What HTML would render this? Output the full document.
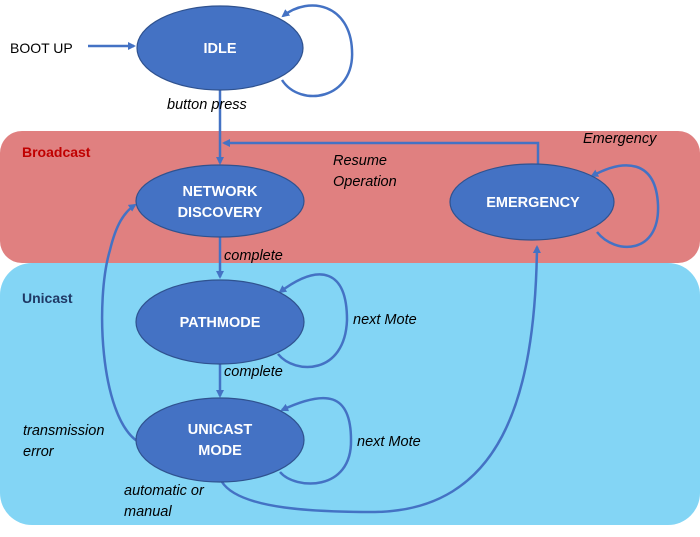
<!DOCTYPE html>
<html><head><style>
body{margin:0;width:700px;height:532px;background:#fff;overflow:hidden}
svg text{font-family:"Liberation Sans",sans-serif;font-size:14px}
.it{font-style:italic;font-size:14.5px}
.w{fill:#fff;font-size:14.5px;font-weight:bold}
</style></head><body>
<svg width="700" height="532" viewBox="0 0 700 532">
<defs><marker id="a" markerWidth="8" markerHeight="8" refX="6" refY="4" orient="auto" markerUnits="userSpaceOnUse"><path d="M0,0 L8,4 L0,8 z" fill="#4472c4"/></marker></defs>
<rect x="0" y="131" width="700" height="132" rx="22" fill="#e08080"/>
<rect x="0" y="263" width="700" height="262" rx="32" fill="#83d5f5"/>
<g fill="none" stroke="#4472c4" stroke-width="2.5">
<path d="M88,46 L134,46" marker-end="url(#a)"/>
<path d="M282,80 C300,108 355,100 352,50 C350,5 310,-5 283,16" marker-end="url(#a)"/>
<path d="M220,90 L220,163" marker-end="url(#a)"/>
<path d="M538,165 L538,143 L224,143" marker-end="url(#a)"/>
<path d="M597,232 C615,255 660,255 658,205 C656,160 625,158 592,176" marker-end="url(#a)"/>
<path d="M220,237 L220,277" marker-end="url(#a)"/>
<path d="M278,354 C295,375 345,375 347,320 C347,270 320,262 280,292" marker-end="url(#a)"/>
<path d="M220,362 L220,396" marker-end="url(#a)"/>
<path d="M280,472 C295,490 352,492 351,440 C351,392 325,390 282,410" marker-end="url(#a)"/>
<path d="M137,441 C100,415 95,300 110,250 C116,225 124,212 135,205" marker-end="url(#a)"/>
<path d="M222,482 C240,510 320,512 375,512 C500,510 535,400 537,247" marker-end="url(#a)"/>
</g>
<g fill="#4472c4" stroke="#2f528f" stroke-width="1.2">
<ellipse cx="220" cy="48" rx="83" ry="42"/>
<ellipse cx="220" cy="201" rx="84" ry="36"/>
<ellipse cx="532" cy="202" rx="82" ry="38"/>
<ellipse cx="220" cy="322" rx="84" ry="42"/>
<ellipse cx="220" cy="440" rx="84" ry="42"/>
</g>
<g text-anchor="middle">
<text class="w" x="220" y="53">IDLE</text>
<text class="w" x="220" y="196">NETWORK</text>
<text class="w" x="220" y="217">DISCOVERY</text>
<text class="w" x="533" y="207">EMERGENCY</text>
<text class="w" x="220" y="327">PATHMODE</text>
<text class="w" x="220" y="434">UNICAST</text>
<text class="w" x="220" y="455">MODE</text>
</g>
<text x="10" y="53" font-size="15">BOOT UP</text>
<text class="it" x="167" y="109">button  press</text>
<text x="22" y="157" font-weight="bold" fill="#c00000" font-size="15">Broadcast</text>
<text x="22" y="303" font-weight="bold" fill="#1f3864" font-size="15">Unicast</text>
<text class="it" x="333" y="165">Resume</text>
<text class="it" x="333" y="186">Operation</text>
<text class="it" x="583" y="143">Emergency</text>
<text class="it" x="224" y="260">complete</text>
<text class="it" x="224" y="376">complete</text>
<text class="it" x="353" y="324">next Mote</text>
<text class="it" x="357" y="446">next Mote</text>
<text class="it" x="23" y="435">transmission</text>
<text class="it" x="23" y="456">error</text>
<text class="it" x="124" y="495">automatic or</text>
<text class="it" x="124" y="516">manual</text>
</svg>
</body></html>
